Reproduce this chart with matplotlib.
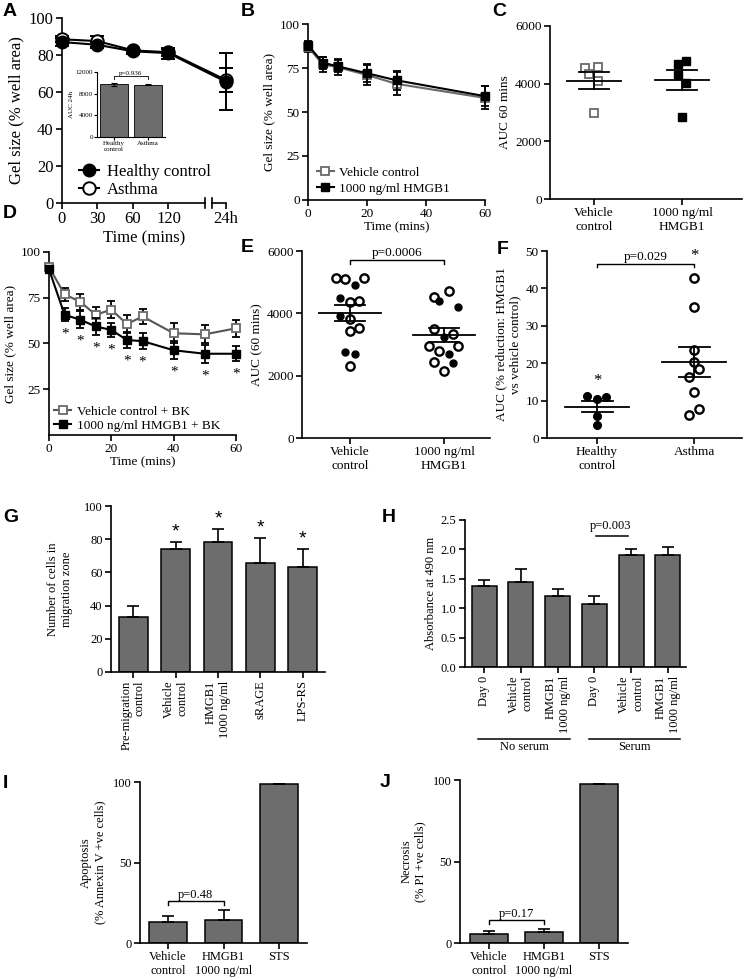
import matplotlib
matplotlib.use('Agg')
import matplotlib.pyplot as plt
import numpy as np
from matplotlib.lines import Line2D
from matplotlib.transforms import blended_transform_factory

plt.rcParams['font.family'] = ['Liberation Serif', 'DejaVu Serif']
plt.rcParams['axes.linewidth'] = 1.2

W, H = 745, 980
fig = plt.figure(figsize=(W / 100, H / 100), dpi=100)

# ---------------- data ----------------
# A
a_ticks = ['0', '30', '60', '120', '24h']
a_healthy = [87, 85.5, 82, 81, 65.5]
a_healthy_err = [2, 1.5, 1.5, 3, 15.5]
a_asthma = [88.5, 87.5, 82.5, 81.5, 66.5]
a_asthma_err = [1.5, 3, 1, 2, 6.5]
a_inset_labels = ['Healthy\ncontrol', 'Asthma']
a_inset_vals = [9700, 9650]
a_inset_err = [300, 100]
# B
b_time = [0, 5, 10, 20, 30, 60]
b_vehicle = [87, 77, 75.5, 71, 66, 58]
b_vehicle_err = [3, 4.5, 4.5, 5.5, 6.5, 6.5]
b_hmgb1 = [88, 78, 76, 72, 68, 59]
b_hmgb1_err = [2.5, 3.5, 3.5, 5, 5.5, 5.5]
# C
c_labels = ['Vehicle\ncontrol', '1000 ng/ml\nHMGB1']
c_vehicle = [4533, 4337, 4567, 4083, 2976]
c_hmgb1 = [4683, 4798, 4302, 4037, 2837]
c_vehicle_jit = [-9, -5, 4, 4, 0]
c_hmgb1_jit = [-4.3, 4.3, -4.3, 4.3, 0]
# D
d_time = [0, 5, 10, 15, 20, 25, 30, 40, 50, 60]
d_vehicle = [91.7, 76.9, 72.8, 65.7, 68.5, 60.6, 64.8, 55.6, 55, 58.3]
d_vehicle_err = [2, 3.5, 4.5, 4.5, 4.5, 5, 4, 5.5, 5, 4.5]
d_hmgb1 = [90.5, 65.7, 63, 59.3, 57.4, 51.9, 51.3, 46.3, 44.4, 44.4]
d_hmgb1_err = [2, 3.5, 4.5, 4.5, 4, 4.5, 4.5, 5, 5, 4]
d_sig = [False, True, True, True, True, True, True, True, True, True]
# E
e_labels = ['Vehicle\ncontrol', '1000 ng/ml\nHMGB1']
e_veh_healthy = [4902, 4497, 3911, 2771, 2696]
e_veh_healthy_jit = [4.7, -9.7, -9.7, -4.7, 4.7]
e_veh_asthma = [5148, 5094, 5148, 4370, 4391, 3805, 3443, 3538, 2323]
e_veh_asthma_jit = [-14, -4.7, 14, 0, 9.3, 0, 0, 9.3, 0]
e_hm_healthy = [4402, 4210, 3229, 2696, 2419]
e_hm_healthy_jit = [-5.3, 14.3, 0, 4.7, 9.3]
e_hm_asthma = [4530, 4721, 3485, 3325, 2963, 2952, 2803, 2451, 2163]
e_hm_asthma_jit = [-9.7, 4.7, -9.7, 9.3, -14.7, 14.3, -5.3, -9.7, 0]
# F
f_labels = ['Healthy\ncontrol', 'Asthma']
f_healthy = [11.1, 10.4, 11.0, 6.0, 3.6]
f_healthy_jit = [-10.3, 0, 9, 0, 0]
f_asthma = [42.8, 35.1, 23.4, 20.2, 16.4, 18.4, 12.2, 6.2, 7.7]
f_asthma_jit = [0, 0, 0, 0, -5.3, 4.7, 0, -5.3, 4.7]
# G
g_labels = ['Pre-migration\ncontrol', 'Vehicle\ncontrol', 'HMGB1\n1000 ng/ml', 'sRAGE', 'LPS-RS']
g_vals = [33.2, 73.9, 78.3, 65.6, 63.4]
g_err = [6.4, 4.6, 8.0, 14.9, 10.6]
g_sig = [False, True, True, True, True]
# H
h_labels = ['Day 0', 'Vehicle\ncontrol', 'HMGB1\n1000 ng/ml', 'Day 0', 'Vehicle\ncontrol', 'HMGB1\n1000 ng/ml']
h_vals = [1.37, 1.45, 1.20, 1.07, 1.90, 1.90]
h_err = [0.11, 0.21, 0.12, 0.13, 0.11, 0.14]
h_groups = ['No serum', 'Serum']
# I
i_labels = ['Vehicle\ncontrol', 'HMGB1\n1000 ng/ml', 'STS']
i_vals = [12.8, 14.4, 98.6]
i_err = [4.1, 5.8, 0]
# J
j_labels = ['Vehicle\ncontrol', 'HMGB1\n1000 ng/ml', 'STS']
j_vals = [5.5, 6.5, 97.6]
j_err = [2.1, 2.1, 0]

BAR = '#6d6d6d'
GRAY = '#6a6a6a'


def ax_px(l, t, r, b):
    return fig.add_axes([l / W, 1 - b / H, (r - l) / W, (b - t) / H])


def style(ax, fs):
    for s in ['top', 'right']:
        ax.spines[s].set_visible(False)
    ax.tick_params(labelsize=fs, length=4, width=1.2, direction='out', pad=2)


def letter(x, y, s):
    fig.text(x / W, 1 - y / H, s, fontsize=14, fontweight='bold',
             family='Liberation Sans', ha='left', va='center')


def bracket(ax, x0, x1, y, h, text, fs, dy, lw=1.0):
    ax.plot([x0, x0, x1, x1], [y - h, y, y, y - h], color='k', lw=lw, clip_on=False)
    ax.text((x0 + x1) / 2, y + dy, text, ha='center', va='bottom', fontsize=fs)


def mean_sem(ax, x, vals, wm, ws):
    v = np.array(vals, float)
    m = v.mean()
    s = v.std(ddof=1) / np.sqrt(len(v))
    ax.plot([x - wm, x + wm], [m, m], color='k', lw=1.3, zorder=4)
    ax.plot([x - ws, x + ws], [m + s, m + s], color='k', lw=1.3, zorder=4)
    ax.plot([x - ws, x + ws], [m - s, m - s], color='k', lw=1.3, zorder=4)
    ax.plot([x, x], [m - s, m + s], color='k', lw=1.3, zorder=4)


# ---------------- A ----------------
ax = ax_px(62, 18, 226, 203)
style(ax, 12)
xa = np.array([0, 1, 2, 3, 4.62])
ax.errorbar(xa, a_asthma, yerr=a_asthma_err, fmt='-o', color='k', mfc='white', mec='k',
            ms=9, mew=1.4, lw=1.5, capsize=5, elinewidth=1.4, capthick=1.4, clip_on=False, zorder=3)
ax.errorbar(xa, a_healthy, yerr=a_healthy_err, fmt='-o', color='k', mfc='k', mec='k',
            ms=9, lw=1.5, capsize=5, elinewidth=1.4, capthick=1.4, clip_on=False, zorder=4)
ax.set_xlim(0, 4.62)
ax.set_ylim(0, 100)
ax.set_yticks([0, 20, 40, 60, 80, 100])
ax.set_xticks(xa)
ax.set_xticklabels(a_ticks)
ax.spines['bottom'].set_visible(False)
ax.plot([0, 4.03], [0, 0], color='k', lw=1.2, clip_on=False)
ax.plot([4.23, 4.62], [0, 0], color='k', lw=1.2, clip_on=False)
ax.plot([4.03, 4.03], [-2.5, 2.5], color='k', lw=1.2, clip_on=False)
ax.plot([4.23, 4.23], [-2.5, 2.5], color='k', lw=1.2, clip_on=False)
ax.set_xlabel('Time (mins)', fontsize=12, labelpad=2)
ax.set_ylabel('Gel size (% well area)', fontsize=12, labelpad=3)
hA = [Line2D([], [], color='k', marker='o', ms=9, mfc='k', lw=1.5),
      Line2D([], [], color='k', marker='o', ms=9, mfc='white', mew=1.4, lw=1.5)]
ax.legend(hA, ['Healthy control', 'Asthma'], loc='lower left', bbox_to_anchor=(0.06, -0.01),
          frameon=False, fontsize=12, handlelength=1.2, handletextpad=0.5, labelspacing=0.15,
          borderaxespad=0)

# inset
axi = ax_px(97, 72, 165, 137)
style(axi, 5)
axi.tick_params(length=2, width=0.8, pad=1)
for s in ['left', 'bottom']:
    axi.spines[s].set_linewidth(0.8)
axi.bar([0, 1], a_inset_vals, width=0.8, color=BAR, edgecolor='k', lw=0.6,
        yerr=a_inset_err, capsize=2, error_kw=dict(elinewidth=0.8, capthick=0.8))
axi.set_xlim(-0.5, 1.5)
axi.set_ylim(0, 12000)
axi.set_yticks([0, 4000, 8000, 12000])
axi.set_xticks([0, 1])
axi.set_xticklabels(a_inset_labels)
axi.set_ylabel('AUC 24h', fontsize=5, labelpad=1)
bracket(axi, 0, 1, 11200, 500, 'p=0.936', 5, 50, lw=0.6)
axi.patch.set_alpha(0)

# ---------------- B ----------------
ax = ax_px(308, 24, 485, 200)
style(ax, 9.5)
ax.errorbar(b_time, b_vehicle, yerr=b_vehicle_err, fmt='-s', color=GRAY, mfc='white', mec=GRAY,
            ms=6, mew=1.3, lw=1.5, ecolor='k', capsize=3, elinewidth=1.3, capthick=1.3,
            clip_on=False, zorder=3)
ax.errorbar(b_time, b_hmgb1, yerr=b_hmgb1_err, fmt='-s', color='k', mfc='k', mec='k',
            ms=6, lw=1.5, capsize=3, elinewidth=1.3, capthick=1.3, clip_on=False, zorder=4)
ax.set_xlim(0, 60)
ax.set_ylim(0, 100)
ax.set_yticks([0, 25, 50, 75, 100])
ax.set_xticks([0, 20, 40, 60])
ax.set_xlabel('Time (mins)', fontsize=9.5, labelpad=1)
ax.set_ylabel('Gel size (% well area)', fontsize=9.5, labelpad=3)
hB = [Line2D([], [], color=GRAY, marker='s', ms=6, mfc='white', mec=GRAY, mew=1.3, lw=1.5),
      Line2D([], [], color='k', marker='s', ms=6, mfc='k', lw=1.5)]
ax.legend(hB, ['Vehicle control', '1000 ng/ml HMGB1'], loc='lower left', bbox_to_anchor=(0.02, 0.0),
          frameon=False, fontsize=9.5, handlelength=1.3, handletextpad=0.4, labelspacing=0.3,
          borderaxespad=0)

# ---------------- C ----------------
ax = ax_px(550, 26, 742, 199)
style(ax, 9.5)
pxu = 88.0
ax.plot(np.array(c_vehicle_jit) / pxu, c_vehicle, 's', ms=6, mfc='white', mec=GRAY, mew=1.3, zorder=3)
ax.plot(1 + np.array(c_hmgb1_jit) / pxu, c_hmgb1, 's', ms=6, mfc='k', mec='k', zorder=3)
mean_sem(ax, 0, c_vehicle, 0.31, 0.17)
mean_sem(ax, 1, c_hmgb1, 0.31, 0.17)
ax.set_xlim(-0.5, 1.68)
ax.set_ylim(0, 6000)
ax.set_yticks([0, 2000, 4000, 6000])
ax.set_xticks([0, 1])
ax.set_xticklabels(c_labels, fontsize=9.5)
ax.set_ylabel('AUC 60 mins', fontsize=9.5, labelpad=3)

# ---------------- D ----------------
ax = ax_px(49, 252, 236, 435)
style(ax, 9.5)
ax.errorbar(d_time, d_vehicle, yerr=d_vehicle_err, fmt='-s', color='#555555', mfc='white', mec=GRAY,
            ms=6, mew=1.3, lw=1.5, ecolor='k', capsize=3, elinewidth=1.3, capthick=1.3,
            clip_on=False, zorder=3)
ax.errorbar(d_time, d_hmgb1, yerr=d_hmgb1_err, fmt='-s', color='k', mfc='k', mec='k',
            ms=6, lw=1.5, capsize=3, elinewidth=1.3, capthick=1.3, clip_on=False, zorder=4)
for t, v, e, s in zip(d_time, d_hmgb1, d_hmgb1_err, d_sig):
    if s:
        ax.text(t, v - e - 3.5, '*', ha='center', va='top', fontsize=11)
ax.set_xlim(0, 60)
ax.set_ylim(0, 100)
ax.set_yticks([25, 50, 75, 100])
ax.set_xticks([0, 20, 40, 60])
ax.set_xlabel('Time (mins)', fontsize=9.5, labelpad=1)
ax.set_ylabel('Gel size (% well area)', fontsize=9.5, labelpad=3)
hD = [Line2D([], [], color='#555555', marker='s', ms=6, mfc='white', mec=GRAY, mew=1.3, lw=1.5),
      Line2D([], [], color='k', marker='s', ms=6, mfc='k', lw=1.5)]
ax.legend(hD, ['Vehicle control + BK', '1000 ng/ml HMGB1 + BK'], loc='lower left',
          bbox_to_anchor=(0.0, -0.01), frameon=False, fontsize=9.5, handlelength=1.3,
          handletextpad=0.4, labelspacing=0.1, borderaxespad=0)

# ---------------- E ----------------
ax = ax_px(302, 251, 490, 438)
style(ax, 9.5)
pxu = 94.0
ax.plot(np.array(e_veh_asthma_jit) / pxu, e_veh_asthma, 'o', ms=6, mfc='white', mec='k', mew=1.7, zorder=3)
ax.plot(np.array(e_veh_healthy_jit) / pxu, e_veh_healthy, 'o', ms=5, mfc='k', mec='k', zorder=3)
ax.plot(1 + np.array(e_hm_asthma_jit) / pxu, e_hm_asthma, 'o', ms=6, mfc='white', mec='k', mew=1.7, zorder=3)
ax.plot(1 + np.array(e_hm_healthy_jit) / pxu, e_hm_healthy, 'o', ms=5, mfc='k', mec='k', zorder=3)
mean_sem(ax, 0, e_veh_healthy + e_veh_asthma, 0.33, 0.16)
mean_sem(ax, 1, e_hm_healthy + e_hm_asthma, 0.33, 0.16)
bracket(ax, 0, 1, 5720, 130, 'p=0.0006', 9.5, 20)
ax.set_xlim(-0.51, 1.49)
ax.set_ylim(0, 6000)
ax.set_yticks([0, 2000, 4000, 6000])
ax.set_xticks([0, 1])
ax.set_xticklabels(e_labels, fontsize=9.5)
ax.set_ylabel('AUC (60 mins)', fontsize=9.5, labelpad=3)

# ---------------- F ----------------
ax = ax_px(547, 251, 742, 438)
style(ax, 9.5)
pxu = 97.0
ax.plot(np.array(f_healthy_jit) / pxu, f_healthy, 'o', ms=5.5, mfc='k', mec='k', zorder=3)
ax.plot(1 + np.array(f_asthma_jit) / pxu, f_asthma, 'o', ms=6, mfc='white', mec='k', mew=1.7, zorder=3)
mean_sem(ax, 0, f_healthy, 0.33, 0.16)
mean_sem(ax, 1, f_asthma, 0.33, 0.16)
bracket(ax, 0, 1, 46.6, 0.8, 'p=0.029', 9.5, 0.3)
ax.text(0, 13.2, '*', ha='center', va='bottom', fontsize=12)
ax.text(1, 46.5, '*', ha='center', va='bottom', fontsize=12)
ax.set_xlim(-0.515, 1.49)
ax.set_ylim(0, 50)
ax.set_yticks([0, 10, 20, 30, 40, 50])
ax.set_xticks([0, 1])
ax.set_xticklabels(f_labels, fontsize=9.5)
ax.set_ylabel('AUC (% reduction: HMGB1\nvs vehicle control)', fontsize=9.5, labelpad=3)

# ---------------- G ----------------
ax = ax_px(111, 506, 325, 672)
style(ax, 9)
xg = np.arange(len(g_vals))
ax.bar(xg, g_vals, width=0.68, color=BAR, edgecolor='k', lw=1.1,
       yerr=[np.zeros(len(g_err)), g_err], capsize=4, error_kw=dict(elinewidth=1.2, capthick=1.2))
for x, v, e, s in zip(xg, g_vals, g_err, g_sig):
    if s:
        ax.text(x, v + e + 1, '*', ha='center', va='bottom', fontsize=14,
                family='Liberation Sans')
ax.set_xlim(-0.52, 4.52)
ax.set_ylim(0, 100)
ax.set_yticks([0, 20, 40, 60, 80, 100])
ax.set_xticks(xg)
ax.set_xticklabels(g_labels, rotation=90, fontsize=9, ma='right')
ax.set_ylabel('Number of cells in\nmigration zone', fontsize=9, labelpad=8)

# ---------------- H ----------------
ax = ax_px(465, 520, 686, 667)
style(ax, 9)
xh = np.arange(len(h_vals))
ax.bar(xh, h_vals, width=0.68, color=BAR, edgecolor='k', lw=1.1,
       yerr=[np.zeros(len(h_err)), h_err], capsize=4, error_kw=dict(elinewidth=1.2, capthick=1.2))
ax.plot([3.03, 3.9], [2.22, 2.22], color='k', lw=1.1)
ax.text(3.45, 2.3, 'p=0.003', ha='center', va='bottom', fontsize=9)
ax.set_xlim(-0.52, 5.49)
ax.set_ylim(0, 2.5)
ax.set_yticks([0, 0.5, 1.0, 1.5, 2.0, 2.5])
ax.set_yticklabels(['0.0', '0.5', '1.0', '1.5', '2.0', '2.5'])
ax.set_xticks(xh)
ax.set_xticklabels(h_labels, rotation=90, fontsize=9, ma='right')
ax.set_ylabel('Absorbance at 490 nm', fontsize=9, labelpad=3)
tr = blended_transform_factory(ax.transData, fig.transFigure)
for gi, name in enumerate(h_groups):
    x0 = gi * 3 - 0.16
    x1 = gi * 3 + 2 + 0.33
    ax.plot([x0, x1], [1 - 739 / H] * 2, color='k', lw=1.1, transform=tr, clip_on=False)
    ax.text((x0 + x1) / 2, 1 - 741 / H, name, ha='center', va='top', fontsize=9, transform=tr)

# ---------------- I ----------------
ax = ax_px(140, 782, 307, 943)
style(ax, 9)
xi = np.arange(len(i_vals))
ax.bar(xi, i_vals, width=0.68, color=BAR, edgecolor='k', lw=1.1,
       yerr=[np.zeros(len(i_err)), i_err], capsize=4, error_kw=dict(elinewidth=1.2, capthick=1.2))
bracket(ax, 0, 1, 25.8, 2.3, 'p=0.48', 9, 0.5)
ax.set_xlim(-0.5, 2.5)
ax.set_ylim(0, 100)
ax.set_yticks([0, 50, 100])
ax.set_xticks(xi)
ax.set_xticklabels(i_labels, fontsize=9)
ax.set_ylabel('Apoptosis\n(% Annexin V +ve cells)', fontsize=9, labelpad=5)

# ---------------- J ----------------
ax = ax_px(460, 780, 628, 943)
style(ax, 9)
xj = np.arange(len(j_vals))
ax.bar(xj, j_vals, width=0.68, color=BAR, edgecolor='k', lw=1.1,
       yerr=[np.zeros(len(j_err)), j_err], capsize=4, error_kw=dict(elinewidth=1.2, capthick=1.2))
bracket(ax, 0, 1, 13.9, 2.0, 'p=0.17', 9, 0.5)
ax.set_xlim(-0.53, 2.53)
ax.set_ylim(0, 100)
ax.set_yticks([0, 50, 100])
ax.set_xticks(xj)
ax.set_xticklabels(j_labels, fontsize=9)
ax.set_ylabel('Necrosis\n(% PI +ve cells)', fontsize=9, labelpad=5)

# panel letters
letter(3, 12, 'A')
letter(241, 12, 'B')
letter(492, 12, 'C')
letter(3, 213, 'D')
letter(241, 248, 'E')
letter(497, 250, 'F')
letter(3, 517, 'G')
letter(382, 517, 'H')
letter(3, 783, 'I')
letter(380, 782, 'J')

fig.savefig('out.png', dpi=100)
